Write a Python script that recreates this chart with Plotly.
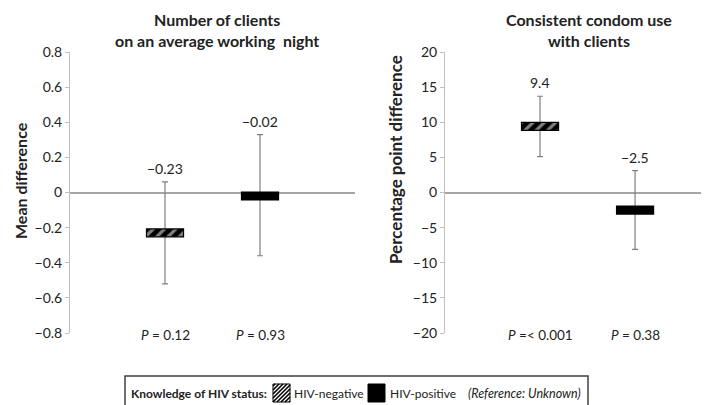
import plotly.graph_objects as go

# ---- data ----
groups = ["HIV-negative", "HIV-positive"]
cat_pos = [1, 2]

clients_mean = [-0.23, -0.02]
clients_lo = [-0.52, -0.36]
clients_hi = [0.06, 0.33]
clients_labels = ["−0.23", "−0.02"]
clients_p = ["<i>P</i> = 0.12", "<i>P</i> = 0.93"]

condom_mean = [9.4, -2.5]
condom_lo = [5.1, -8.1]
condom_hi = [13.7, 3.1]
condom_labels = ["9.4", "−2.5"]
condom_p = ["<i>P</i> =< 0.001", "<i>P</i> = 0.38"]

left_ticks = [0.8, 0.6, 0.4, 0.2, 0, -0.2, -0.4, -0.6, -0.8]
right_ticks = [20, 15, 10, 5, 0, -5, -10, -15, -20]

legend_title = "Knowledge of HIV status:"
legend_note = "(Reference: Unknown)"

FONT = "Lato"
TXT = "#222"
W, H = 709, 405


def px(x):
    return x / W


def py(y):
    return 1 - y / H


fig = go.Figure()


def add_panel(means, lo, hi, xa, ya, box_h):
    # whiskers (invisible bars carrying the error bars)
    fig.add_trace(go.Bar(
        x=cat_pos, y=means, width=0.39, xaxis=xa, yaxis=ya,
        marker=dict(color="rgba(0,0,0,0)", line=dict(width=0)),
        error_y=dict(type="data", symmetric=False,
                     array=[h - m for h, m in zip(hi, means)],
                     arrayminus=[m - l for m, l in zip(means, lo)],
                     color="#808080", thickness=1.2, width=3),
        showlegend=False, hoverinfo="skip"))
    # boxes
    for i, g in enumerate(groups):
        if i == 0:
            marker = dict(color="black", line=dict(color="black", width=1.2),
                          pattern=dict(shape="/", bgcolor="black", fgcolor="white",
                                       size=8, solidity=0.4, fillmode="overlay"))
        else:
            marker = dict(color="black", line=dict(color="black", width=1.2))
        fig.add_trace(go.Bar(
            x=[cat_pos[i]], y=[box_h], base=[means[i] - box_h / 2], width=0.39,
            xaxis=xa, yaxis=ya, marker=marker, name=g, showlegend=False))


add_panel(clients_mean, clients_lo, clients_hi, "x", "y", 0.045)
add_panel(condom_mean, condom_lo, condom_hi, "x2", "y2", 1.14)

ydom = [py(325), py(44)]
axis_common = dict(showgrid=False, showline=True, linecolor="#bfbfbf", linewidth=1,
                   ticks="outside", ticklen=4, tickcolor="#bfbfbf",
                   zeroline=True, zerolinecolor="#a6a6a6", zerolinewidth=1.5,
                   tickfont=dict(family=FONT, size=14, color=TXT),
                   automargin=False, domain=ydom)
xcommon = dict(showgrid=False, showline=False, showticklabels=False, ticks="",
               zeroline=False, automargin=False)

annotations = []
for i in range(2):
    annotations.append(dict(x=cat_pos[i], y=clients_hi[i], xref="x", yref="y",
                            text=clients_labels[i], showarrow=False, yanchor="bottom",
                            yshift=3, font=dict(family=FONT, size=14, color=TXT)))
    annotations.append(dict(x=cat_pos[i], y=condom_hi[i], xref="x2", yref="y2",
                            text=condom_labels[i], showarrow=False, yanchor="bottom",
                            yshift=3, font=dict(family=FONT, size=14, color=TXT)))
    annotations.append(dict(x=cat_pos[i], y=left_ticks[-1], xref="x", yref="y",
                            text=clients_p[i], showarrow=False, yanchor="middle",
                            yshift=-2, font=dict(family=FONT, size=13.5, color=TXT)))
    annotations.append(dict(x=cat_pos[i], y=right_ticks[-1], xref="x2", yref="y2",
                            text=condom_p[i], showarrow=False, yanchor="middle",
                            yshift=-2, font=dict(family=FONT, size=13.5, color=TXT)))

annotations += [
    dict(x=px(209), y=py(0), xref="paper", yref="paper", xanchor="center",
         yanchor="top", showarrow=False,
         text="<b>Number of clients<br>on an average working  night</b>",
         font=dict(family=FONT, size=16, color=TXT)),
    dict(x=px(581), y=py(0), xref="paper", yref="paper", xanchor="center",
         yanchor="top", showarrow=False,
         text="<b>Consistent condom use<br>with clients</b>",
         font=dict(family=FONT, size=16, color=TXT)),
    dict(x=px(12), y=py(173), xref="paper", yref="paper", xanchor="center",
         yanchor="middle", showarrow=False, textangle=-90,
         text="<b>Mean difference</b>", font=dict(family=FONT, size=16, color=TXT)),
    dict(x=px(387), y=py(152), xref="paper", yref="paper", xanchor="center",
         yanchor="middle", showarrow=False, textangle=-90,
         text="<b>Percentage point difference</b>",
         font=dict(family=FONT, size=17, color=TXT)),
    # legend texts
    dict(x=px(261), y=py(385), xref="paper", yref="paper", xanchor="right",
         yanchor="middle", showarrow=False, text="<b>" + legend_title + "</b>",
         font=dict(family=FONT, size=12, color=TXT)),
    dict(x=px(284), y=py(385), xref="paper", yref="paper", xanchor="left",
         yanchor="middle", showarrow=False, text=groups[0],
         font=dict(family=FONT, size=12, color=TXT)),
    dict(x=px(380), y=py(385), xref="paper", yref="paper", xanchor="left",
         yanchor="middle", showarrow=False, text=groups[1],
         font=dict(family=FONT, size=12, color=TXT)),
    dict(x=px(575), y=py(385), xref="paper", yref="paper", xanchor="right",
         yanchor="middle", showarrow=False, text="<i>" + legend_note + "</i>",
         font=dict(family=FONT, size=12.5, color=TXT)),
]

# ---- manual legend shapes ----
shapes = [
    dict(type="rect", xref="paper", yref="paper", x0=px(117), x1=px(580),
         y0=py(402), y1=py(368), line=dict(color="#404040", width=1.5),
         fillcolor="white", layer="below"),
]
# hatched swatch
sx0, sx1, sy0, sy1 = 265, 282, 376, 394
shapes.append(dict(type="rect", xref="paper", yref="paper", x0=px(sx0), x1=px(sx1),
                   y0=py(sy1), y1=py(sy0), line=dict(color="black", width=1),
                   fillcolor="white", layer="above"))
sw, sh = sx1 - sx0, sy1 - sy0
d = -sh + 2
while d < sw:
    u0 = max(0, d)
    u1 = min(sw, sh + d)
    if u1 > u0:
        shapes.append(dict(type="line", xref="paper", yref="paper",
                           x0=px(sx0 + u0), y0=py(sy1 - (u0 - d)),
                           x1=px(sx0 + u1), y1=py(sy1 - (u1 - d)),
                           line=dict(color="black", width=1.6), layer="above"))
    d += 4
# solid swatch
shapes.append(dict(type="rect", xref="paper", yref="paper", x0=px(360), x1=px(377),
                   y0=py(sy1), y1=py(sy0), line=dict(color="black", width=1),
                   fillcolor="black", layer="above"))

fig.update_layout(
    width=W, height=H, margin=dict(l=0, r=0, t=0, b=0),
    paper_bgcolor="white", plot_bgcolor="white", barmode="overlay",
    xaxis=dict(domain=[px(62), px(347)], range=[0, 3], **xcommon),
    xaxis2=dict(domain=[px(437), px(705)], range=[0, 2.82], anchor="y2", **xcommon),
    yaxis=dict(range=[-0.8, 0.8], tickvals=left_ticks,
               ticktext=[("−" if v < 0 else "") + ("%g" % abs(v)) for v in left_ticks],
               anchor="x", **axis_common),
    yaxis2=dict(range=[-20, 20], tickvals=right_ticks,
                ticktext=[("−" if v < 0 else "") + ("%g" % abs(v)) for v in right_ticks],
                anchor="x2", **axis_common),
    annotations=annotations,
    shapes=shapes,
    showlegend=False,
)

fig.write_html("out.html")
